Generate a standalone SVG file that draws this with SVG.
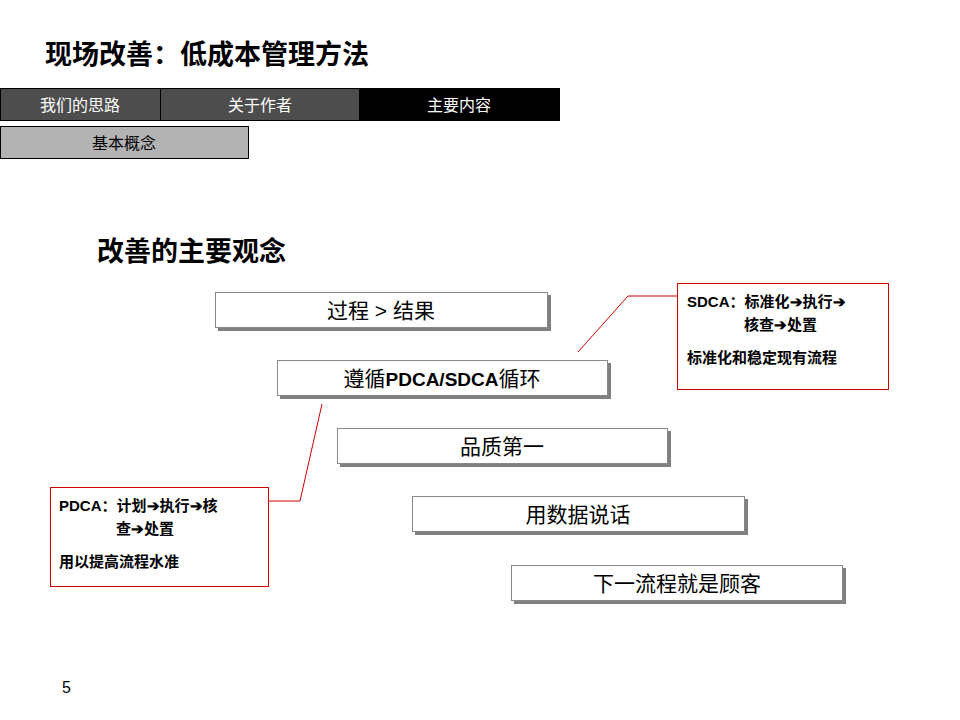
<svg xmlns="http://www.w3.org/2000/svg" width="960" height="720" viewBox="0 0 960 720">
<style>
text{font-family:"Liberation Sans","Noto Sans CJK SC",sans-serif}
.box{fill:#fff;stroke:#888;stroke-width:1}
.sh{fill:#808080}
.bt{font-size:21px;text-anchor:middle}
.call{fill:#fff;stroke:#d00000;stroke-width:1}
.ct{font-size:15px;font-weight:bold}
.tab{stroke:#000;stroke-width:1}
.tt{font-size:16px;text-anchor:middle}
</style>
<rect width="960" height="720" fill="#fff"/>
<text x="45" y="64" font-size="27" font-weight="bold">现场改善：低成本管理方法</text>
<g id="tabs">
<rect class="tab" x="0.5" y="88.5" width="160" height="32" fill="#4d4d4d"/>
<text class="tt" x="80" y="111" fill="#fff">我们的思路</text>
<rect class="tab" x="160.5" y="88.5" width="199" height="32" fill="#4d4d4d"/>
<text class="tt" x="260" y="111" fill="#fff">关于作者</text>
<rect class="tab" x="359.5" y="88.5" width="200" height="32" fill="#000"/>
<text class="tt" x="459" y="111" fill="#fff">主要内容</text>
<rect class="tab" x="0.5" y="126.5" width="248" height="32" fill="#b3b3b3"/>
<text class="tt" x="124" y="149" fill="#000">基本概念</text>
</g>
<text x="97" y="261" font-size="27" font-weight="bold">改善的主要观念</text>
<g id="connectors" fill="none" stroke="#d00000" stroke-width="1">
<polyline points="677,296 628,296 578,352"/>
<polyline points="268,501 300,501 322,404"/>
</g>
<g id="n1"><rect class="sh" x="218" y="295" width="333" height="36"/><rect class="box" x="215.5" y="292.5" width="332" height="35"/><text class="bt" x="381" y="318">过程 &gt; 结果</text></g>
<g id="n2"><rect class="sh" x="280" y="363" width="331" height="36"/><rect class="box" x="277.5" y="360.5" width="330" height="35"/><text class="bt" x="442" y="386">遵循<tspan font-weight="bold" font-size="19">PDCA/SDCA</tspan>循环</text></g>
<g id="n3"><rect class="sh" x="340" y="431" width="331" height="36"/><rect class="box" x="337.5" y="428.5" width="330" height="35"/><text class="bt" x="502" y="454">品质第一</text></g>
<g id="n4"><rect class="sh" x="415" y="499" width="333" height="36"/><rect class="box" x="412.5" y="496.5" width="332" height="35"/><text class="bt" x="578" y="522">用数据说话</text></g>
<g id="n5"><rect class="sh" x="514" y="568" width="332" height="36"/><rect class="box" x="511.5" y="565.5" width="331" height="35"/><text class="bt" x="677" y="591">下一流程就是顾客</text></g>
<g id="c1"><rect class="call" x="677.5" y="283.5" width="211" height="106"/>
<text class="ct" x="687" y="307">SDCA：标准化➔执行➔</text>
<text class="ct" x="744" y="330">核查➔处置</text>
<text class="ct" x="687" y="363">标准化和稳定现有流程</text></g>
<g id="c2"><rect class="call" x="50.5" y="487.5" width="218" height="99"/>
<text class="ct" x="59" y="511">PDCA：计划➔执行➔核</text>
<text class="ct" x="116" y="534">查➔处置</text>
<text class="ct" x="59" y="567">用以提高流程水准</text></g>
<text x="62" y="693" font-size="16">5</text>
</svg>
